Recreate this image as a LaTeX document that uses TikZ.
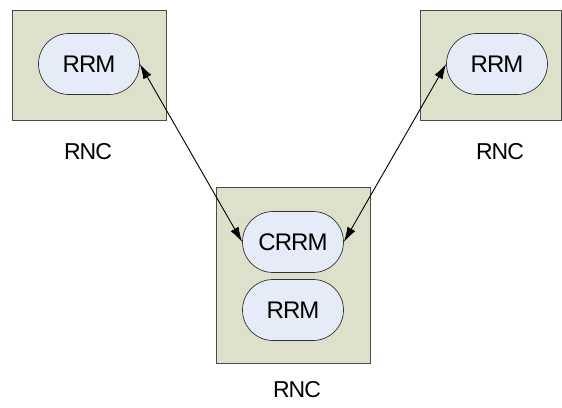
\documentclass[tikz,border=0pt]{standalone}
\usepackage{fontspec}
\setmainfont{Liberation Sans}[LetterSpace=-4]
\usetikzlibrary{shapes.misc,arrows.meta}
\definecolor{rncfill}{HTML}{DDE0CB}
\definecolor{rrmfill}{HTML}{E6ECF7}
\begin{document}
\begin{tikzpicture}[x=1pt,y=-1pt,
    rnc/.style={draw=black!70, fill=rncfill, line width=0.7pt},
    rrm/.style={draw=black!80, fill=rrmfill, rounded rectangle, line width=0.7pt,
        minimum width=101pt, minimum height=61pt, inner sep=0pt,
        font=\fontsize{24}{26}\selectfont},
    lbl/.style={font=\fontsize{23}{26}\selectfont},
    link/.style={{Latex[length=15pt,width=9pt]}-{Latex[length=15pt,width=9pt]}, line width=0.9pt}]
    \useasboundingbox (0,0) rectangle (562,407);
    % the three RNC boxes
    \draw[rnc] (12,10) rectangle (166,120);
    \draw[rnc] (420,10) rectangle (561,120);
    \draw[rnc] (216,187) rectangle (370,363);
    % RRM entities
    \node[rrm] (lrrm) at (89,64) {RRM};
    \node[rrm] (rrrm) at (497,64) {RRM};
    \node[rrm] (crrm) at (293,242) {CRRM};
    \node[rrm] (brrm) at (293,310) {RRM};
    % labels
    \node[lbl] (lrnc) at (88,152) {RNC};
    \node[lbl] (rrnc) at (500,152) {RNC};
    \node[lbl] (crnc) at (297,390) {RNC};
    % links to the CRRM
    \draw[link] (lrrm.east) -- (crrm.west);
    \draw[link] (rrrm.west) -- (crrm.east);
\end{tikzpicture}
\end{document}
